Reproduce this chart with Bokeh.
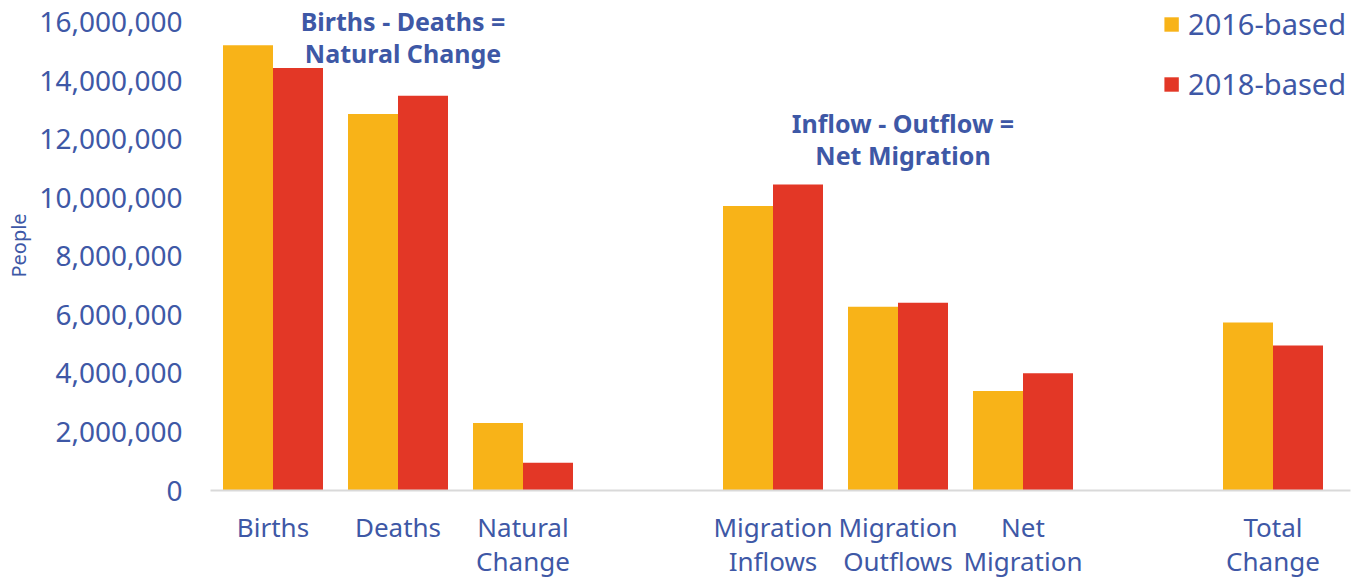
from bokeh.plotting import figure
from bokeh.models import ColumnDataSource, Range1d, FixedTicker, NumeralTickFormatter, Label, Legend, LegendItem
from bokeh.embed import file_html
from bokeh.resources import INLINE

categories = ["Births", "Deaths", "Natural\nChange", "Migration\nInflows", "Migration\nOutflows", "Net\nMigration", "Total\nChange"]
slots = [0, 1, 2, 4, 5, 6, 8]
based_2016 = [15220000, 12870000, 2310000, 9720000, 6280000, 3400000, 5740000]
based_2018 = [14440000, 13490000, 950000, 10460000, 6420000, 4010000, 4960000]
series_names = ["2016-based", "2018-based"]
y_ticks = [0, 2000000, 4000000, 6000000, 8000000, 10000000, 12000000, 14000000, 16000000]

ORANGE = "#F8B318"
RED = "#E33726"
BLUE = "#3E58A6"
FONT = "Noto Sans"

src = ColumnDataSource(dict(
    x16=[s - 0.2 for s in slots],
    x18=[s + 0.2 for s in slots],
    v16=based_2016,
    v18=based_2018,
))

p = figure(width=1361, height=582, output_backend="svg", toolbar_location=None,
           x_range=Range1d(-0.5, 8.62), y_range=Range1d(0, 16747000),
           min_border_left=210, min_border_right=11, min_border_top=0, min_border_bottom=40)
p.outline_line_color = None
p.xgrid.grid_line_color = None
p.ygrid.grid_line_color = None

r16 = p.vbar(x="x16", top="v16", width=0.4, source=src, fill_color=ORANGE, line_color=None)
r18 = p.vbar(x="x18", top="v18", width=0.4, source=src, fill_color=RED, line_color=None)

# x axis
p.xaxis.ticker = FixedTicker(ticks=slots)
p.xaxis.major_label_overrides = {s: c for s, c in zip(slots, categories)}
p.xaxis.major_tick_line_color = None
p.xaxis.major_tick_out = 0
p.xaxis.major_tick_in = 0
p.xaxis.minor_tick_line_color = None
p.xaxis.minor_tick_out = 0
p.xaxis.axis_line_color = "#D9D9D9"
p.xaxis.axis_line_width = 2
p.xaxis.major_label_text_font = FONT
p.xaxis.major_label_text_font_size = "26px"
p.xaxis.major_label_text_color = BLUE
p.xaxis.major_label_standoff = 18
p.xaxis.major_label_text_line_height = 0.96

# y axis
p.yaxis.ticker = FixedTicker(ticks=y_ticks)
p.yaxis.formatter = NumeralTickFormatter(format="0,0")
p.yaxis.axis_line_color = None
p.yaxis.major_tick_line_color = None
p.yaxis.minor_tick_line_color = None
p.yaxis.major_tick_out = 0
p.yaxis.minor_tick_out = 0
p.yaxis.major_label_text_font = FONT
p.yaxis.major_label_text_font_size = "28px"
p.yaxis.major_label_text_color = BLUE
p.yaxis.major_label_standoff = 28
p.yaxis.axis_label = "People"
p.yaxis.axis_label_text_font = FONT
p.yaxis.axis_label_text_font_size = "20px"
p.yaxis.axis_label_text_font_style = "normal"
p.yaxis.axis_label_text_color = BLUE
p.yaxis.axis_label_standoff = 4

# annotations
for x, y, t in [(1.04, 16630000, "Births - Deaths =\nNatural Change"),
                (5.04, 13130000, "Inflow - Outflow =\nNet Migration")]:
    p.add_layout(Label(x=x, y=y, text=t, text_align="center", text_baseline="top",
                       text_font=FONT, text_font_size="25px", text_font_style="bold",
                       text_color=BLUE, text_line_height=0.94))

legend = Legend(items=[LegendItem(label=series_names[0], renderers=[r16]),
                       LegendItem(label=series_names[1], renderers=[r18])],
                location="top_right", border_line_color=None, background_fill_alpha=0,
                label_text_font=FONT, label_text_font_size="29px", label_text_color=BLUE,
                glyph_width=18, glyph_height=18, label_height=30, spacing=21,
                label_standoff=8, padding=5, margin=4)
p.add_layout(legend)

open("out.html", "w").write(file_html(p, INLINE))
